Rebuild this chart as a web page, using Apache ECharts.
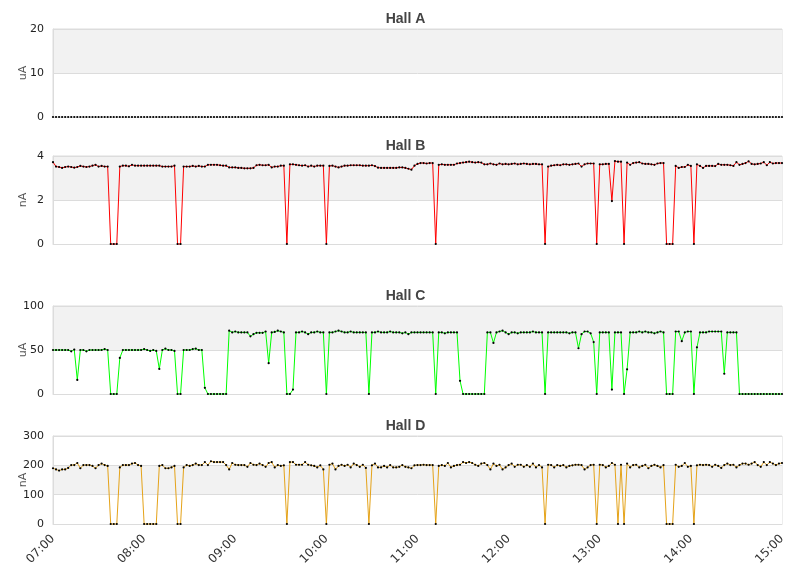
<!DOCTYPE html>
<html>
<head>
<meta charset="utf-8">
<script src="https://cdn.jsdelivr.net/npm/echarts@6.0.0/dist/echarts.min.js"></script>
<style>
  html, body { margin: 0; padding: 0; background: #fff; }
  #chart { width: 811px; height: 578px; }
</style>
</head>
<body>
<div id="chart"></div>
<script>
// x axis: one sample every 2 minutes from 07:00 to 15:00
var hourLabels = ['07:00', '08:00', '09:00', '10:00', '11:00', '12:00', '13:00', '14:00', '15:00'];
var stepMinutes = 2;

// one row per hour (30 samples), last line is the 15:00 sample
var hallA = [
    0,0,0,0,0,0,0,0,0,0, 0,0,0,0,0,0,0,0,0,0, 0,0,0,0,0,0,0,0,0,0,
    0,0,0,0,0,0,0,0,0,0, 0,0,0,0,0,0,0,0,0,0, 0,0,0,0,0,0,0,0,0,0,
    0,0,0,0,0,0,0,0,0,0, 0,0,0,0,0,0,0,0,0,0, 0,0,0,0,0,0,0,0,0,0,
    0,0,0,0,0,0,0,0,0,0, 0,0,0,0,0,0,0,0,0,0, 0,0,0,0,0,0,0,0,0,0,
    0,0,0,0,0,0,0,0,0,0, 0,0,0,0,0,0,0,0,0,0, 0,0,0,0,0,0,0,0,0,0,
    0,0,0,0,0,0,0,0,0,0, 0,0,0,0,0,0,0,0,0,0, 0,0,0,0,0,0,0,0,0,0,
    0,0,0,0,0,0,0,0,0,0, 0,0,0,0,0,0,0,0,0,0, 0,0,0,0,0,0,0,0,0,0,
    0,0,0,0,0,0,0,0,0,0, 0,0,0,0,0,0,0,0,0,0, 0,0,0,0,0,0,0,0,0,0,
    0
];

var hallB = [
    3.72, 3.52, 3.5, 3.46, 3.5, 3.52, 3.5, 3.47, 3.5, 3.55, 3.52, 3.5, 3.52, 3.56, 3.6, 3.52, 3.55, 3.52, 3.52, 0, 0, 0, 3.52, 3.56, 3.56, 3.53, 3.6, 3.56, 3.56, 3.56,
    3.56, 3.56, 3.56, 3.56, 3.56, 3.56, 3.52, 3.52, 3.52, 3.52, 3.56, 0, 0, 3.52, 3.52, 3.52, 3.55, 3.52, 3.55, 3.52, 3.52, 3.6, 3.6, 3.6, 3.6, 3.58, 3.56, 3.56, 3.48, 3.48,
    3.48, 3.46, 3.46, 3.44, 3.44, 3.44, 3.46, 3.58, 3.6, 3.58, 3.58, 3.6, 3.48, 3.52, 3.52, 3.56, 3.56, 0, 3.62, 3.62, 3.6, 3.58, 3.56, 3.58, 3.52, 3.56, 3.52, 3.56, 3.56, 3.56,
    0, 3.55, 3.56, 3.52, 3.48, 3.52, 3.56, 3.56, 3.58, 3.58, 3.58, 3.58, 3.56, 3.56, 3.56, 3.58, 3.54, 3.47, 3.46, 3.46, 3.46, 3.46, 3.46, 3.46, 3.48, 3.48, 3.46, 3.42, 3.38, 3.56,
    3.64, 3.68, 3.68, 3.66, 3.68, 3.68, 0, 3.6, 3.62, 3.6, 3.6, 3.6, 3.6, 3.66, 3.68, 3.7, 3.72, 3.74, 3.72, 3.7, 3.72, 3.7, 3.62, 3.62, 3.66, 3.62, 3.6, 3.66, 3.62, 3.64,
    3.62, 3.64, 3.66, 3.62, 3.64, 3.66, 3.64, 3.62, 3.64, 3.64, 3.62, 3.62, 0, 3.52, 3.56, 3.58, 3.6, 3.58, 3.62, 3.62, 3.6, 3.62, 3.64, 3.66, 3.52, 3.62, 3.66, 3.66, 3.66, 0,
    3.62, 3.62, 3.64, 3.64, 1.95, 3.77, 3.74, 3.74, 0, 3.7, 3.6, 3.68, 3.7, 3.72, 3.66, 3.64, 3.64, 3.62, 3.6, 3.66, 3.68, 3.68, 0, 0, 0, 3.55, 3.46, 3.5, 3.5, 3.6,
    3.55, 0, 3.62, 3.55, 3.46, 3.55, 3.55, 3.55, 3.54, 3.64, 3.6, 3.6, 3.6, 3.58, 3.55, 3.72, 3.6, 3.64, 3.68, 3.76, 3.64, 3.62, 3.64, 3.66, 3.72, 3.58, 3.72, 3.66, 3.68, 3.68,
    3.68
];

var hallC = [
    50, 50, 50, 50, 50, 50, 48.5, 50.5, 16, 50, 50, 48.5, 50, 50, 50, 50, 50, 51, 50, 0, 0, 0, 41, 50, 50, 50, 50, 50, 50, 50,
    51, 50, 49, 50, 49, 28.5, 50, 51.5, 50, 50, 49, 0, 0, 50, 50, 50, 51, 51.5, 50, 50, 7, 0, 0, 0, 0, 0, 0, 0, 72, 70,
    71, 70, 70, 70, 70, 65.5, 68, 69.5, 69.5, 69.5, 71, 35, 70, 70.5, 72, 71, 70, 0, 0, 5, 70, 70, 71, 70, 68, 70, 70, 71, 70, 70,
    0, 70, 70, 71, 72, 71, 70, 70, 71, 70, 70, 70, 70, 70, 0, 70, 70, 71, 70, 70, 70, 71, 70, 70, 70, 69, 70, 68, 70, 70,
    70, 70, 70, 70, 70, 70, 0, 70, 70, 69, 70, 70, 70, 70, 15, 0, 0, 0, 0, 0, 0, 0, 0, 70, 70, 58, 70, 71, 72, 70,
    68, 70, 70, 69, 70, 70, 70, 70, 71, 70, 70, 70, 0, 70, 70, 70, 70, 70, 70, 70, 69, 70, 70, 52, 68, 71, 71, 69, 59, 0,
    70, 70, 70, 70, 5, 70, 70, 70, 0, 28, 70, 70, 70, 71, 70, 71, 70, 70, 69, 70, 71, 70, 0, 0, 0, 71, 71, 60, 70, 71,
    71, 0, 53, 70, 70, 70, 71, 71, 71, 71, 71, 23, 70, 70, 70, 70, 0, 0, 0, 0, 0, 0, 0, 0, 0, 0, 0, 0, 0, 0,
    0
];

var hallD = [
    190, 186, 182, 186, 186, 191, 201, 201, 208, 190, 201, 201, 201, 198, 190, 201, 206, 201, 198, 0, 0, 0, 193, 201, 201, 201, 206, 208, 201, 198,
    0, 0, 0, 0, 0, 198, 201, 190, 190, 193, 198, 0, 0, 193, 201, 198, 201, 206, 201, 201, 211, 201, 214, 211, 211, 211, 211, 201, 186, 208,
    202, 201, 201, 201, 195, 208, 202, 201, 206, 201, 195, 208, 211, 193, 201, 198, 200, 0, 211, 211, 202, 202, 202, 211, 202, 200, 198, 193, 200, 186,
    0, 202, 206, 186, 198, 202, 198, 202, 193, 206, 201, 195, 202, 191, 0, 200, 206, 193, 193, 198, 193, 201, 193, 193, 195, 201, 195, 193, 190, 200,
    201, 201, 202, 201, 201, 201, 0, 198, 201, 198, 208, 193, 198, 201, 202, 211, 208, 211, 208, 202, 198, 206, 208, 201, 186, 206, 198, 202, 186, 193,
    201, 206, 195, 202, 202, 195, 201, 195, 206, 193, 201, 193, 0, 202, 201, 193, 201, 198, 201, 193, 198, 200, 202, 202, 201, 186, 193, 201, 202, 0,
    202, 201, 193, 198, 208, 202, 0, 202, 0, 206, 193, 201, 202, 193, 198, 202, 190, 198, 202, 198, 193, 201, 0, 0, 0, 202, 195, 198, 208, 195,
    198, 0, 200, 202, 201, 202, 201, 195, 202, 198, 191, 201, 206, 201, 202, 193, 201, 206, 206, 202, 206, 211, 201, 195, 211, 201, 211, 206, 201, 206,
    208
];

var panels = [
    { title: 'Hall A', unit: 'uA', max: 20,  interval: 10,  values: hallA, color: '#dcdcdc', top: 29 },
    { title: 'Hall B', unit: 'nA', max: 4,   interval: 2,   values: hallB, color: '#ff0000', top: 156 },
    { title: 'Hall C', unit: 'uA', max: 100, interval: 50,  values: hallC, color: '#00ff00', top: 306 },
    { title: 'Hall D', unit: 'nA', max: 300, interval: 100, values: hallD, color: '#e5a319', top: 436 }
];

var FONT = 'DejaVu Sans';
var plotHeight = 88;

function toPoints(values) {
    return values.map(function (v, i) { return [i * stepMinutes, v]; });
}

var option = {
    animation: false,
    backgroundColor: '#fff',
    title: [], grid: [], xAxis: [], yAxis: [], series: []
};

panels.forEach(function (p, k) {
    var last = k === panels.length - 1;
    option.title.push({
        text: p.title,
        left: 'center',
        top: p.top - 22,
        textStyle: { fontFamily: 'Liberation Sans', fontWeight: 'bold', fontSize: 14, color: '#444' }
    });
    option.grid.push({
        left: 53, right: 29, top: p.top, height: plotHeight,
        containLabel: false, outerBoundsMode: 'none',
        show: true, borderColor: '#dcdcdc', borderWidth: 1, backgroundColor: 'transparent'
    });
    // bottom axis line drawn above the series, zero readings hide under it
    option.xAxis.push({
        type: 'value', gridIndex: k, z: 3,
        min: 0, max: (hourLabels.length - 1) * 60, interval: 60,
        axisLine: { show: true, lineStyle: { color: '#dcdcdc' } },
        axisTick: { show: false },
        splitLine: { show: false },
        axisLabel: {
            show: last, rotate: 45, margin: 13,
            fontFamily: FONT, fontSize: 12, color: '#333',
            formatter: function (v) { return hourLabels[v / 60]; }
        }
    });
    option.yAxis.push({
        type: 'value', gridIndex: k,
        min: 0, max: p.max, interval: p.interval,
        name: p.unit, nameLocation: 'middle', nameGap: 24, nameRotate: 90,
        nameMoveOverlap: false,
        nameTextStyle: { fontFamily: FONT, fontSize: 11, color: '#555' },
        axisLine: { show: true, lineStyle: { color: '#dcdcdc' } },
        axisTick: { show: false },
        axisLabel: { fontFamily: FONT, fontSize: 11, color: '#222', margin: 9 },
        splitLine: { show: true, lineStyle: { color: '#dcdcdc' } },
        splitArea: { show: true, areaStyle: { color: ['#ffffff', '#f2f2f2'] } }
    });
    option.series.push({
        type: 'line', xAxisIndex: k, yAxisIndex: k,
        data: toPoints(p.values),
        showSymbol: true, showAllSymbol: true,
        symbol: 'circle', symbolSize: 2.2,
        lineStyle: { color: p.color, width: 1 },
        itemStyle: { color: '#000' },
        emphasis: { disabled: true },
        clip: false
    });
});

var chart = echarts.init(document.getElementById('chart'));
chart.setOption(option);
</script>
</body>
</html>
